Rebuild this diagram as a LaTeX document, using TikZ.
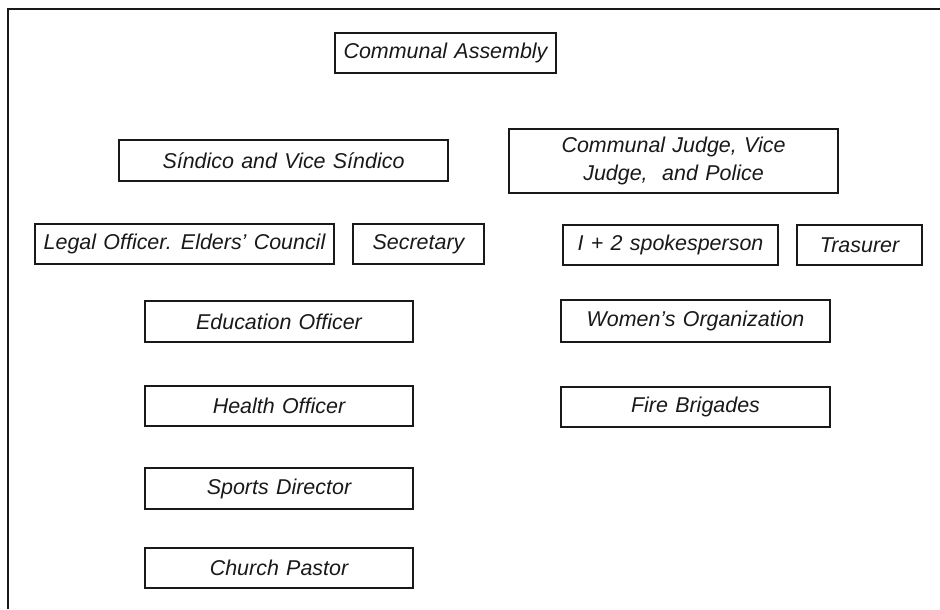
\documentclass[tikz,border=0pt]{standalone}
\usepackage{fontspec}
\setmainfont{Liberation Sans}
\newcommand\postfont{\itshape\fontsize{12.2}{15.5}\selectfont\spaceskip=0.34em\relax}
\tikzset{
  post/.style={draw=black!90, line width=1.4pt, text=black!90, inner sep=0pt,
    font=\postfont, minimum height=0.8cm},
}

\begin{document}
\begin{tikzpicture}
\useasboundingbox (0,0) rectangle (18.8,12.18);
\draw[black!90, line width=1.4pt] (0.16,0) -- (0.16,12) -- (18.8,12);

\node[post, minimum width=4.42cm] (assembly) at (8.91,11.12) {Communal Assembly};

\node[post, minimum width=6.58cm, minimum height=0.82cm] (sindico) at (5.67,8.97) {Síndico and Vice Síndico};
\node[post, minimum width=6.58cm, minimum height=1.28cm, align=center] (judge) at (13.47,8.96) {Communal Judge, Vice\\Judge,~ and Police};

\node[post, minimum width=5.98cm] (legal) at (3.69,7.3) {Legal Officer. Elders' Council};
\node[post, minimum width=2.62cm] (secretary) at (8.37,7.3) {Secretary};
\node[post, minimum width=4.3cm] (spokes) at (13.41,7.28) {I + 2 spokesperson};
\node[post, minimum width=2.5cm] (treasurer) at (17.19,7.28) {Trasurer};

\node[post, minimum width=5.36cm, minimum height=0.82cm] (education) at (5.58,5.75) {Education Officer};
\node[post, minimum width=5.36cm] (health) at (5.58,4.06) {Health Officer};
\node[post, minimum width=5.36cm, minimum height=0.82cm] (sports) at (5.58,2.41) {Sports Director};
\node[post, minimum width=5.36cm] (pastor) at (5.58,0.82) {Church Pastor};

\node[post, minimum width=5.38cm, minimum height=0.84cm] (women) at (13.91,5.76) {Women's Organization};
\node[post, minimum width=5.38cm] (fire) at (13.91,4.04) {Fire Brigades};
\end{tikzpicture}
\end{document}
